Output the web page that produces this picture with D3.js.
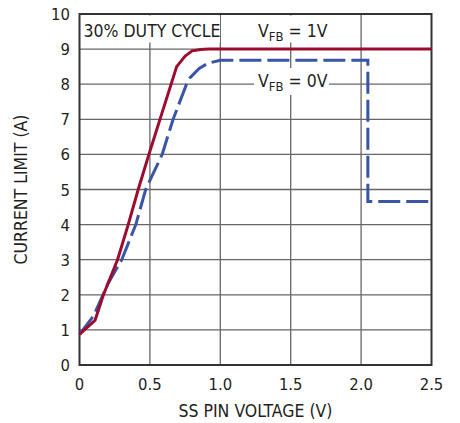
<!DOCTYPE html>
<html>
<head>
<meta charset="utf-8">
<script src="https://cdn.jsdelivr.net/npm/d3@7"></script>
<style>
  html, body { margin: 0; padding: 0; background: #fff; }
  svg { display: block; }
  text { font-family: "Liberation Sans Narrow", "DejaVu Sans Condensed", "Arial Narrow", sans-serif; fill: #231f20; }
</style>
</head>
<body>
<svg id="chart" width="460" height="423"></svg>
<script>
// SS pin voltage (V) vs. current limit (A)
const xTicks = [0, 0.5, 1.0, 1.5, 2.0, 2.5];
const xTickLabels = ["0", "0.5", "1.0", "1.5", "2.0", "2.5"];
const yTicks = [0, 1, 2, 3, 4, 5, 6, 7, 8, 9, 10];

// V_FB = 1V curve
const vfb1X = [0, 0.11, 0.17, 0.27, 0.346, 0.417, 0.493, 0.69, 0.75, 0.8, 0.86, 0.92, 2.5];
const vfb1Y = [0.87, 1.27, 2.0, 3.0, 4.0, 5.0, 6.0, 8.5, 8.8, 8.95, 8.99, 9.0, 9.0];

// V_FB = 0V curve
const vfb0X = [0, 0.1, 0.2, 0.3, 0.4, 0.47, 0.587, 0.665, 0.76, 0.784, 0.85, 0.914, 1.0, 2.048, 2.048, 2.5];
const vfb0Y = [0.87, 1.4, 2.3, 3.0, 4.0, 5.0, 6.0, 7.0, 8.0, 8.18, 8.45, 8.6, 8.68, 8.68, 4.66, 4.66];

const svg = d3.select("#chart");
const x = d3.scaleLinear().domain([0, 2.5]).range([79.5, 431.5]);
const y = d3.scaleLinear().domain([0, 10]).range([365, 14]);

// grid
const grid = svg.append("g");
grid.selectAll("line.gx").data(xTicks.slice(1, -1)).enter().append("line")
  .attr("x1", d => x(d)).attr("x2", d => x(d))
  .attr("y1", y(0)).attr("y2", y(10))
  .attr("stroke", "#666").attr("stroke-width", 1.3);
grid.selectAll("line.gy").data(yTicks.slice(1, -1)).enter().append("line")
  .attr("x1", x(0)).attr("x2", x(2.5))
  .attr("y1", d => y(d)).attr("y2", d => y(d))
  .attr("stroke", "#666").attr("stroke-width", 1.3);

// frame
svg.append("rect")
  .attr("x", x(0)).attr("y", y(10))
  .attr("width", x(2.5) - x(0)).attr("height", y(0) - y(10))
  .attr("fill", "none").attr("stroke", "#333").attr("stroke-width", 2);

// tick labels
svg.append("g").selectAll("text").data(xTicks).enter().append("text")
  .attr("x", d => x(d)).attr("y", 390)
  .attr("text-anchor", "middle").attr("font-size", 16.5)
  .text((d, i) => xTickLabels[i]);
svg.append("g").selectAll("text").data(yTicks).enter().append("text")
  .attr("x", 70).attr("y", d => y(d) + 6)
  .attr("text-anchor", "end").attr("font-size", 16.5)
  .text(d => d);

// axis titles
svg.append("text")
  .attr("x", (x(0) + x(2.5)) / 2).attr("y", 416.5)
  .attr("text-anchor", "middle").attr("font-size", 17.5)
  .text("SS PIN VOLTAGE (V)");
svg.append("text")
  .attr("transform", "translate(26.7," + ((y(0) + y(10)) / 2) + ") rotate(-90)")
  .attr("text-anchor", "middle").attr("font-size", 17.5)
  .text("CURRENT LIMIT (A)");

// in-plot annotations with white backing
function label(x0, baseline, parts, bg) {
  svg.append("rect").attr("x", bg[0]).attr("y", bg[1]).attr("width", bg[2]).attr("height", bg[3]).attr("fill", "#fff");
  const t = svg.append("text").attr("x", x0).attr("y", baseline).attr("font-size", 17.5);
  parts.forEach(p => {
    const s = t.append("tspan").text(p.t);
    if (p.sub) s.attr("font-size", 13).attr("dy", 3.5);
    if (p.up) s.attr("dy", -3.5);
  });
}
label(83.5, 36.7, [{t: "30% DUTY CYCLE"}], [81, 15.5, 139, 27]);
label(258, 37.3, [{t: "V"}, {t: "FB", sub: true}, {t: " = 1V", up: true}], [255, 15.5, 70, 27]);
label(258, 87.3, [{t: "V"}, {t: "FB", sub: true}, {t: " = 0V", up: true}], [254, 68, 75, 27]);

// curves
const line = d3.line().x(d => x(d[0])).y(d => y(d[1]));
svg.append("path")
  .datum(vfb0X.map((v, i) => [v, vfb0Y[i]]))
  .attr("d", line).attr("fill", "none")
  .attr("stroke", "#3a55a5").attr("stroke-width", 3)
  .attr("stroke-dasharray", "22,6").attr("stroke-linejoin", "miter");
svg.append("path")
  .datum(vfb1X.map((v, i) => [v, vfb1Y[i]]))
  .attr("d", line).attr("fill", "none")
  .attr("stroke", "#9c0c30").attr("stroke-width", 3)
  .attr("stroke-linejoin", "round");
</script>
</body>
</html>
